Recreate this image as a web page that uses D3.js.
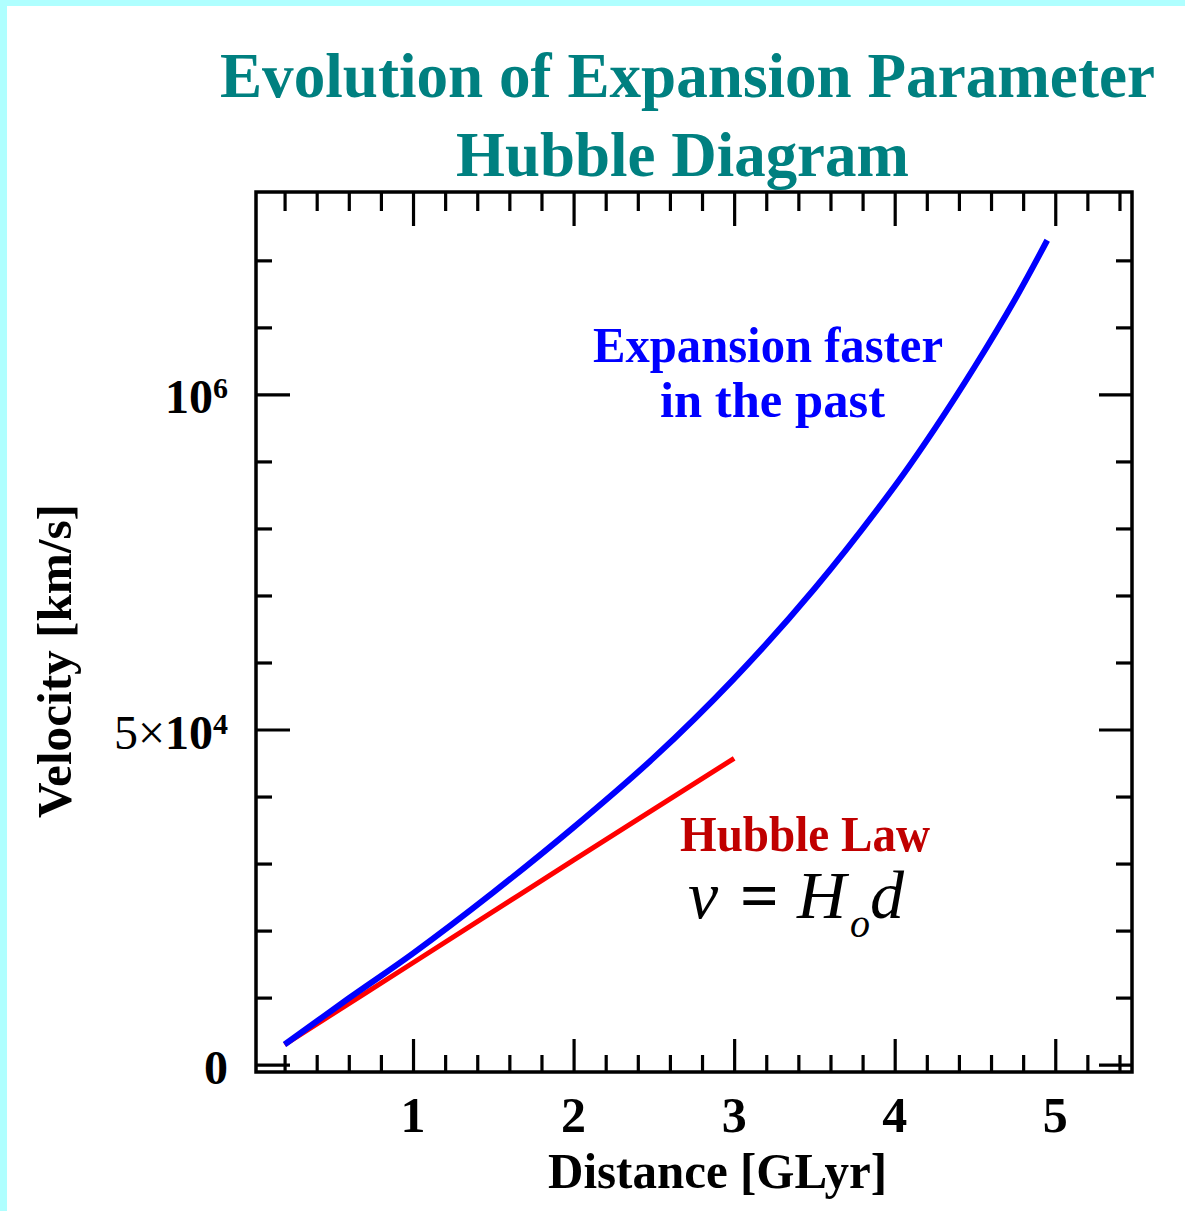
<!DOCTYPE html>
<html>
<head>
<meta charset="utf-8">
<script src="https://d3js.org/d3.v7.min.js"></script>
<style>
  body { margin: 0; background: #afffff; }
  svg { display: block; }
  text { font-family: "Liberation Serif", "DejaVu Serif", serif; }
</style>
</head>
<body>
<script>
/* ==== data ==== */
// blue curve: expansion faster in the past
var distBlue = [0.2, 0.6, 1.0, 1.5, 2.0, 2.5, 3.0, 3.5, 4.0, 4.25, 4.5, 4.75, 4.95];
var velBlue  = [3000, 9900, 16600, 25700, 35400, 45800, 57600, 71000, 86300, 94900, 104200, 114200, 123000];

// red line: Hubble law v = Ho d
var distRed = [0.2, 1.0, 2.0, 3.0];
var velRed  = [3000, 15200, 30500, 45700];

// ticks and labels
var xMajor = [1, 2, 3, 4, 5];
var xMinor = [0.2, 0.4, 0.6, 0.8, 1.2, 1.4, 1.6, 1.8, 2.2, 2.4, 2.6, 2.8, 3.2, 3.4, 3.6, 3.8,
              4.2, 4.4, 4.6, 4.8, 5.2, 5.4];
var xLabels = ["1", "2", "3", "4", "5"];
var yMajor = [0, 50000, 100000];
var yMinor = [10000, 20000, 30000, 40000, 60000, 70000, 80000, 90000, 110000, 120000];
var yLabelPre = ["", "5\u00d7", ""];
var yLabelBase = ["0", "10", "10"];
var yLabelSup = ["", "4", "6"];

/* ==== canvas ==== */
var width = 1185, height = 1211;
var svg = d3.select("body").append("svg")
    .attr("width", width)
    .attr("height", height);

// white page inside the cyan border strip (left and top)
svg.append("rect")
    .attr("x", 7).attr("y", 6)
    .attr("width", width - 7).attr("height", height - 6)
    .attr("fill", "#fff");

// plot frame (note: "top" is taken by window.top, so prefix everything)
var plotLeft = 256, plotRight = 1132, plotTop = 192, plotBottom = 1072;

var x = d3.scaleLinear().domain([0.022, 5.478]).range([plotLeft, plotRight]);
var y = d3.scaleLinear().domain([-1100, 130200]).range([plotBottom, plotTop]);

/* ==== title ==== */
svg.append("text")
    .attr("x", 220).attr("y", 97)
    .attr("textLength", 935).attr("lengthAdjust", "spacingAndGlyphs")
    .attr("font-size", 63).attr("font-weight", "bold")
    .attr("fill", "#008080")
    .text("Evolution of Expansion Parameter");

svg.append("text")
    .attr("x", 456).attr("y", 176)
    .attr("textLength", 453).attr("lengthAdjust", "spacingAndGlyphs")
    .attr("font-size", 63).attr("font-weight", "bold")
    .attr("fill", "#008080")
    .text("Hubble Diagram");

/* ==== ticks on all four sides, pointing inward ==== */
function drawTicks(axis, tx, ty) {
  var g = svg.append("g")
      .attr("transform", "translate(" + tx + "," + ty + ")")
      .call(axis);
  g.select(".domain").remove();
  g.selectAll("line").attr("stroke", "#000").attr("stroke-width", 3.2);
  return g;
}

drawTicks(d3.axisBottom(x).tickValues(xMinor).tickSize(-17).tickFormat(""), 0, plotBottom);
drawTicks(d3.axisBottom(x).tickValues(xMajor).tickSize(-33).tickFormat(""), 0, plotBottom);
drawTicks(d3.axisTop(x).tickValues(xMinor).tickSize(-19).tickFormat(""), 0, plotTop);
drawTicks(d3.axisTop(x).tickValues(xMajor).tickSize(-34).tickFormat(""), 0, plotTop);
drawTicks(d3.axisLeft(y).tickValues(yMinor).tickSize(-16).tickFormat(""), plotLeft, 0);
drawTicks(d3.axisLeft(y).tickValues(yMajor).tickSize(-34).tickFormat(""), plotLeft, 0);
drawTicks(d3.axisRight(y).tickValues(yMinor).tickSize(-16).tickFormat(""), plotRight, 0);
drawTicks(d3.axisRight(y).tickValues(yMajor).tickSize(-33).tickFormat(""), plotRight, 0);

// frame
svg.append("rect")
    .attr("x", plotLeft).attr("y", plotTop)
    .attr("width", plotRight - plotLeft).attr("height", plotBottom - plotTop)
    .attr("fill", "none").attr("stroke", "#000").attr("stroke-width", 3.5);

/* ==== tick labels ==== */
svg.selectAll(".xlab")
    .data(xMajor)
  .enter().append("text")
    .attr("class", "xlab")
    .attr("x", function(d) { return x(d); })
    .attr("y", 1132)
    .attr("text-anchor", "middle")
    .attr("font-size", 50)
    .attr("font-weight", "bold")
    .text(function(d, i) { return xLabels[i]; });

var ylab = svg.selectAll(".ylab")
    .data(yMajor)
  .enter().append("text")
    .attr("class", "ylab")
    .attr("x", 228)
    .attr("y", function(d) { return y(d) + 19; })
    .attr("text-anchor", "end")
    .attr("font-size", 48);
ylab.append("tspan").text(function(d, i) { return yLabelPre[i]; });
ylab.append("tspan")
    .attr("font-weight", "bold")
    .text(function(d, i) { return yLabelBase[i]; });
ylab.append("tspan")
    .attr("font-size", 30)
    .attr("font-weight", "bold")
    .attr("dy", -15)
    .text(function(d, i) { return yLabelSup[i]; });

/* ==== axis titles ==== */
svg.append("text")
    .attr("x", 548).attr("y", 1188)
    .attr("textLength", 339).attr("lengthAdjust", "spacingAndGlyphs")
    .attr("font-size", 50).attr("font-weight", "bold")
    .text("Distance [GLyr]");

svg.append("text")
    .attr("transform", "translate(71,818) rotate(-90)")
    .attr("textLength", 314).attr("lengthAdjust", "spacingAndGlyphs")
    .attr("font-size", 48).attr("font-weight", "bold")
    .text("Velocity [km/s]");

/* ==== curves ==== */
var line = d3.line()
    .x(function(d) { return x(d[0]); })
    .y(function(d) { return y(d[1]); })
    .curve(d3.curveCatmullRom.alpha(0.5));

svg.append("path")
    .datum(d3.zip(distRed, velRed))
    .attr("d", line)
    .attr("fill", "none")
    .attr("stroke", "#ff0000")
    .attr("stroke-width", 5);

svg.append("path")
    .datum(d3.zip(distBlue, velBlue))
    .attr("d", line)
    .attr("fill", "none")
    .attr("stroke", "#0000ff")
    .attr("stroke-width", 6);

/* ==== annotations ==== */
svg.append("text")
    .attr("x", 593).attr("y", 362)
    .attr("textLength", 350).attr("lengthAdjust", "spacingAndGlyphs")
    .attr("font-size", 51).attr("font-weight", "bold")
    .attr("fill", "#0000ff")
    .text("Expansion faster");

svg.append("text")
    .attr("x", 660).attr("y", 417)
    .attr("textLength", 225).attr("lengthAdjust", "spacingAndGlyphs")
    .attr("font-size", 51).attr("font-weight", "bold")
    .attr("fill", "#0000ff")
    .text("in the past");

svg.append("text")
    .attr("x", 680).attr("y", 851)
    .attr("textLength", 250).attr("lengthAdjust", "spacingAndGlyphs")
    .attr("font-size", 51).attr("font-weight", "bold")
    .attr("fill", "#c00000")
    .text("Hubble Law");

// v = Ho d
var eq = svg.append("g").attr("font-size", 68).attr("fill", "#000");
eq.append("text").attr("x", 688).attr("y", 918).attr("font-style", "italic").text("v");
eq.append("text").attr("x", 740).attr("y", 918).attr("font-weight", "bold").text("=");
eq.append("text").attr("x", 797).attr("y", 918).attr("font-style", "italic").text("H");
eq.append("text").attr("x", 850).attr("y", 937).attr("font-size", 40).attr("font-style", "italic").text("o");
eq.append("text").attr("x", 870).attr("y", 918).attr("font-style", "italic").text("d");
</script>
</body>
</html>
